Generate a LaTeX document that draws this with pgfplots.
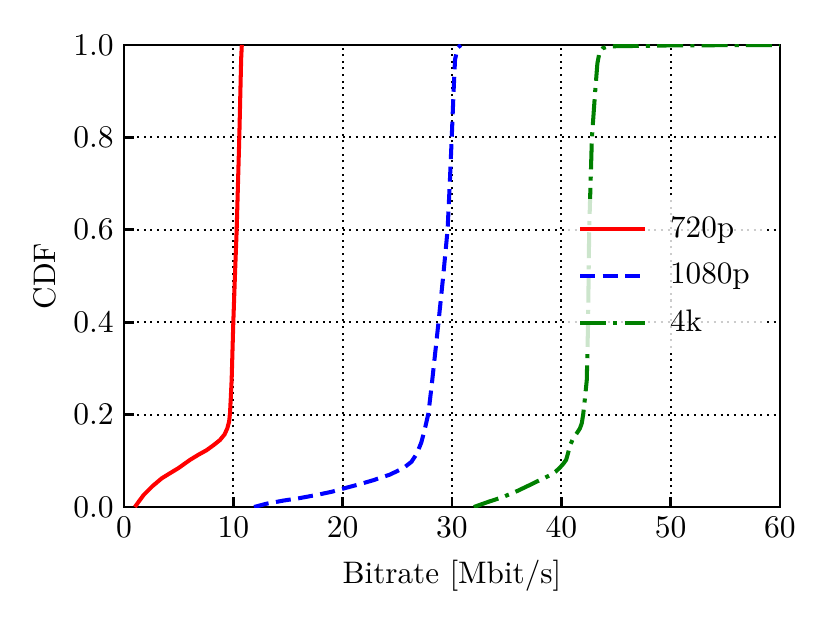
\documentclass[border=0pt]{standalone}
\usepackage{pgfplots}
\pgfplotsset{compat=1.18}
\definecolor{mplgreen}{rgb}{0,0.5,0}
\newcommand{\ff}{\fontsize{10.8}{13}\selectfont}
\begin{document}
\begin{tikzpicture}
\path[use as bounding box] (-43pt,-40.25pt) rectangle (244.95pt,175.9pt);
\begin{axis}[
  scale only axis, width=227.6pt, height=160.3pt,
  at={(0,0)}, anchor=south west,
  xmin=0, xmax=60, ymin=0, ymax=1,
  xtick={0,10,20,30,40,50,60},
  ytick={0,0.2,0.4,0.6,0.8,1},
  yticklabel style={/pgf/number format/.cd,fixed,fixed zerofill,precision=1},
  tick label style={font=\ff},
  label style={font=\ff},
  xlabel style={yshift=-1pt},
  ylabel style={yshift=-1pt},
  grid=major,
  major grid style={black, line width=0.7pt, dash pattern=on 0.7pt off 1.6pt},
  tick align=inside, tick pos=left, major tick length=3.5pt,
  every tick/.style={black, line width=1pt},
  axis line style={line width=1pt},
  xlabel={Bitrate [Mbit/s]}, ylabel={CDF},
  legend cell align=left,
  legend image code/.code={\draw[#1] (0pt,0pt) -- (22.5pt,0pt);},
  legend style={draw=none, fill=white, fill opacity=0.8, text opacity=1, font=\ff,
    at={(rel axis cs:0.674,0.5)}, anchor=west, row sep=3.5pt, column sep=6pt,
    inner xsep=4pt, inner ysep=4pt},
]
\addplot[red, line width=1.4pt] coordinates {
(1.0,0) (1.3,0.01) (1.8,0.026) (2.6,0.045) (3.45,0.062) (4.2,0.073) (4.97,0.084)
(6.04,0.102) (6.8,0.113) (7.56,0.123) (8.2,0.134) (8.78,0.145) (9.2,0.157)
(9.45,0.170) (9.62,0.185) (9.70,0.203) (9.78,0.24) (9.85,0.275) (10.0,0.398)
(10.15,0.5) (10.31,0.6) (10.43,0.7) (10.55,0.80) (10.65,0.9) (10.72,0.97) (10.78,1.0)
};
\addlegendentry{720p}
\addplot[blue, line width=1.4pt, dash pattern=on 5.2pt off 2.6pt] coordinates {
(11.9,0) (13.0,0.007) (14.6,0.014) (16.0,0.019) (17.6,0.026) (19.0,0.033)
(20.07,0.040) (21.5,0.049) (22.8,0.058) (24.3,0.070) (25.55,0.084) (26.3,0.098)
(26.8,0.116) (27.2,0.14) (27.5,0.167) (27.85,0.203) (28.2,0.275) (28.76,0.398)
(29.2,0.5) (29.6,0.60) (29.8,0.70) (29.98,0.80) (30.15,0.90) (30.28,0.968)
(30.5,0.993) (30.8,1.0)
};
\addlegendentry{1080p}
\addplot[mplgreen, line width=1.4pt, dash pattern=on 9pt off 2.5pt on 1.4pt off 2.5pt] coordinates {
(32.0,0) (33.3,0.011) (34.7,0.022) (36.0,0.035) (37.15,0.048) (38.1,0.059)
(38.98,0.069) (39.5,0.077) (39.9,0.086) (40.2,0.094) (40.44,0.102) (40.6,0.115)
(40.8,0.134) (41.1,0.149) (41.4,0.159) (41.7,0.170) (41.87,0.181) (42.0,0.2)
(42.18,0.239) (42.33,0.275) (42.45,0.4) (42.55,0.6) (42.8,0.8) (43.1,0.9)
(43.3,0.96) (43.5,0.985) (43.8,0.993) (44.3,0.997) (50,0.999) (60,1.0)
};
\addlegendentry{4k}
\end{axis}
\end{tikzpicture}
\end{document}
